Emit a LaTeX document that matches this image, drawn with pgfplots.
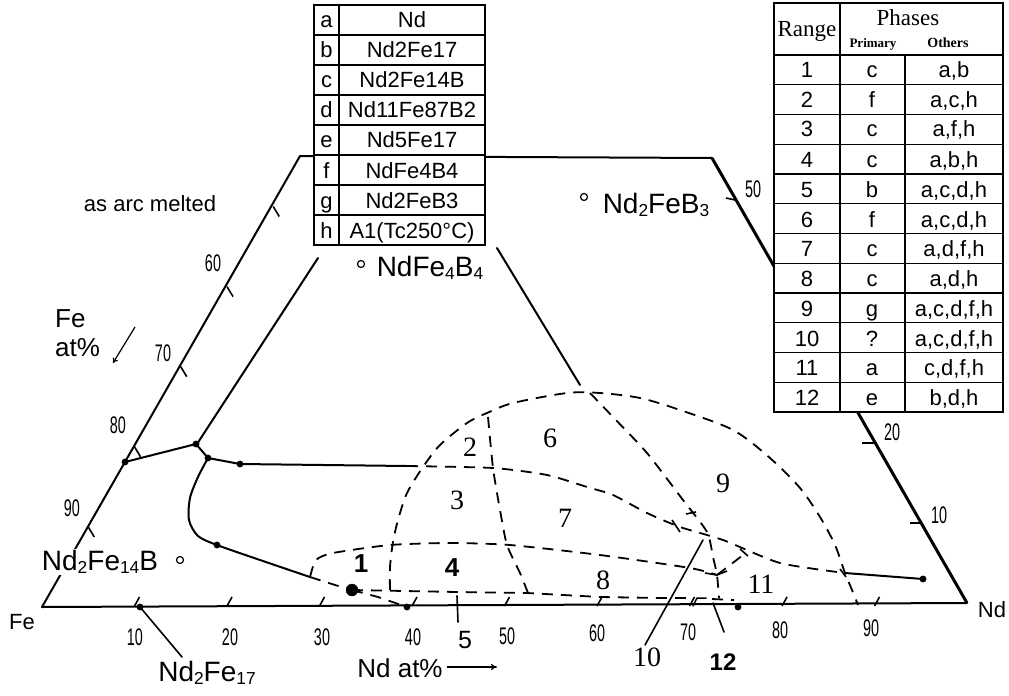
\documentclass[border=0pt]{standalone}
\usepackage{fontspec}
\setmainfont{Liberation Sans}
\newfontfamily\tnr{Liberation Serif}
\usepackage{graphicx}
\usepackage{pgfplots}
\pgfplotsset{compat=1.18}
\usetikzlibrary{arrows.meta}
\newcommand\fs[1]{\fontsize{#1bp}{#1bp}\selectfont}
\newcommand\cn[1]{\scalebox{0.6}[1]{\fs{24}#1}}
\newcommand\sub[1]{\raisebox{-0.12em}{\fontsize{0.62em}{0.62em}\selectfont #1}}
\tikzset{
  sl/.style={black, line width=2bp, line join=round, line cap=round},
  tl/.style={black, line width=3bp, line join=round},
  dl/.style={black, line width=1.8bp, dash pattern=on 11bp off 8bp},
  tk/.style={black, line width=1.6bp},
}
\begin{document}
\begin{tikzpicture}
\begin{axis}[scale only axis, width=1009bp, height=696bp,
  xmin=0, xmax=1009, ymin=0, ymax=696, y dir=reverse,
  hide axis, clip=false]

% ---- triangle edges ----
\addplot[sl] coordinates {(42,607) (967,603)};
\addplot[sl] coordinates {(42,607) (300,156) (712,158)};
\addplot[tl] coordinates {(712,158) (967,603)};

% ---- edge ticks (base, Nd at%) ----
\pgfplotsinvokeforeach{1,...,9}{
  \addplot[tk] coordinates {({42+92.5*#1},606) ({47+92.5*#1},597)};
}
% left edge ticks (Fe at%)
\pgfplotsinvokeforeach{1,...,5}{
  \addplot[tk] coordinates {({42+46.25*#1},{607-80.1*#1}) ({48+46.25*#1},{617-80.1*#1})};
}
% right edge ticks
\addplot[tk] coordinates {(921,523) (910,523)};
\addplot[tk] coordinates {(874,443) (862,443)};
\addplot[tk] coordinates {(735,200) (726,198)};

% ---- solid phase lines ----
\addplot[sl] coordinates {(125,462) (196,444) (208,458) (240,464) (407,466)};
\addplot[sl] coordinates {(197,444) (318,258)};
\addplot[sl] coordinates {(497,248) (580,385)};
\addplot[sl, smooth, tension=0.5] coordinates {(208,458) (198,477) (190,498) (189,520) (198,536) (217,545) (260,560) (310,577)};
\addplot[sl] coordinates {(845,573) (923,579)};

% ---- dashed boundaries ----
\addplot[dl] coordinates {(310,577) (335,585) (352,590)};
\addplot[dl] coordinates {(352,590) (378,597) (407,607)};
\addplot[dl] coordinates {(352,590) (457,592) (527,593) (600,597) (660,598) (690,598)};
\addplot[sl, line width=1.5bp] coordinates {(693,606) (697,598) (706,598)};
\addplot[dl] coordinates {(712,599) (734,600)};
\addplot[dl, smooth, tension=0.4] coordinates {(310,577) (316,560) (333,553) (390,545) (450,543) (510,545) (600,555) (690,568) (717,575)};
\addplot[dl, smooth, tension=0.5] coordinates {(390,590) (390,567) (393,542) (398,520) (407,493) (423,467) (440,445) (467,423) (487,413) (513,403) (567,393) (600,393) (640,398) (680,410) (733,430) (770,458) (800,488) (820,517) (835,545) (845,573) (852,590) (858,605)};
\addplot[dl, smooth, tension=0.4] coordinates {(407,466) (493,468) (547,475) (587,487) (613,495) (647,513) (680,527) (723,540) (780,563) (845,573)};
\addplot[dl, smooth, tension=0.4] coordinates {(488,417) (493,468) (500,510) (507,545) (520,573) (528,593)};
\addplot[dl, smooth, tension=0.4] coordinates {(590,393) (613,417) (647,453) (683,500) (707,532) (713,557) (717,575) (719,598)};
\addplot[dl] coordinates {(717,575) (747,552)};
% small brackets on dashed lines
\addplot[tk] coordinates {(672,520) (680,532)};
\addplot[tk] coordinates {(686,514) (696,512)};
\addplot[tk] coordinates {(705,573) (717,575) (727,571)};
\addplot[tk] coordinates {(740,549) (748,556)};
\addplot[tk] coordinates {(840,569) (846,577)};

% ---- pointer lines ----
\addplot[sl, line width=1.6bp] coordinates {(140,607) (182,657)};
\addplot[sl, line width=1.6bp] coordinates {(457,596) (458,622)};
\addplot[sl, line width=1.6bp] coordinates {(703,540) (645,645)};
\addplot[sl, line width=1.6bp] coordinates {(713,603) (724,632)};

% ---- points ----
\addplot[only marks, mark=*, mark size=3.2bp, black] coordinates {(125,462) (196,444) (208,458) (240,464) (217,545) (140,607) (407,607) (738,607) (923,579)};
\addplot[only marks, mark=*, mark size=6bp, black] coordinates {(352,590)};

% ---- left table ----
\draw[fill=white, line width=1.4bp] (314,5) rectangle (485,245);
\draw[line width=1.2bp] (339,5) -- (339,245);
\pgfplotsinvokeforeach{1,...,7}{\draw[line width=1.2bp] (314,{5+30*#1}) -- (485,{5+30*#1});}
\begin{scope}[every node/.style={font=\fs{22}, inner sep=0pt, anchor=base, yshift=-8bp}]
\node at (326.5,20) {a};  \node at (412,20) {Nd};
\node at (326.5,50) {b};  \node at (412,50) {Nd2Fe17};
\node at (326.5,80) {c};  \node at (412,80) {Nd2Fe14B};
\node at (326.5,110) {d}; \node at (412,110) {Nd11Fe87B2};
\node at (326.5,140) {e}; \node at (412,140) {Nd5Fe17};
\node at (326.5,170) {f}; \node at (412,170) {NdFe4B4};
\node at (326.5,200) {g}; \node at (412,200) {Nd2FeB3};
\node at (326.5,230) {h}; \node at (412,230) {A1(Tc250°C)};
\end{scope}

% ---- right table ----
\draw[fill=white, line width=1.4bp] (774,3) rectangle (1003,412);
\draw[line width=1.2bp] (840,3) -- (840,412);
\draw[line width=1.2bp] (905,55) -- (905,412);
\draw[line width=1.2bp] (774,55) -- (1003,55);
\pgfplotsinvokeforeach{1,...,11}{\draw[line width=1.2bp] (774,{55+29.75*#1}) -- (1003,{55+29.75*#1});}
\node[font=\tnr\fs{23}, inner sep=0pt, anchor=base] at (807,37) {Range};
\node[font=\tnr\fs{23}, inner sep=0pt, anchor=base] at (908,26) {Phases};
\node[font=\tnr\bfseries\fs{13}, inner sep=0pt, anchor=base] at (873,48) {Primary};
\node[font=\tnr\bfseries\fs{14}, inner sep=0pt, anchor=base] at (948,48) {Others};
\begin{scope}[every node/.style={font=\fs{22}, inner sep=0pt, anchor=base, yshift=-8bp}]
\node at (807,70) {1};  \node at (872,70) {c}; \node at (954,70) {a,b};
\node at (807,100) {2}; \node at (872,100) {f}; \node at (954,100) {a,c,h};
\node at (807,129) {3}; \node at (872,129) {c}; \node at (954,129) {a,f,h};
\node at (807,159) {4}; \node at (872,159) {c}; \node at (954,159) {a,b,h};
\node at (807,189) {5}; \node at (872,189) {b}; \node at (954,189) {a,c,d,h};
\node at (807,219) {6}; \node at (872,219) {f}; \node at (954,219) {a,c,d,h};
\node at (807,248) {7}; \node at (872,248) {c}; \node at (954,248) {a,d,f,h};
\node at (807,278) {8}; \node at (872,278) {c}; \node at (954,278) {a,d,h};
\node at (807,308) {9}; \node at (872,308) {g}; \node at (954,308) {a,c,d,f,h};
\node at (807,338) {10}; \node at (872,338) {?}; \node at (954,338) {a,c,d,f,h};
\node at (807,367) {11}; \node at (872,367) {a}; \node at (954,367) {c,d,f,h};
\node at (807,397) {12}; \node at (872,397) {e}; \node at (954,397) {b,d,h};
\end{scope}

% ---- tick numbers ----
\begin{scope}[every node/.style={inner sep=0pt}]
\node at (135,637) {\cn{10}}; \node at (230,637) {\cn{20}}; \node at (322,637) {\cn{30}};
\node at (413,637) {\cn{40}}; \node at (507,636) {\cn{50}}; \node at (597,633) {\cn{60}};
\node at (688,632) {\cn{70}}; \node at (780,630) {\cn{80}}; \node at (871,628) {\cn{90}};
\node at (213,263) {\cn{60}}; \node at (163,353) {\cn{70}}; \node at (118,425) {\cn{80}}; \node at (72,508) {\cn{90}};
\node at (939,515) {\cn{10}}; \node at (892,432) {\cn{20}}; \node at (753,189) {\cn{50}};
\end{scope}

% ---- labels ----
\node[font=\fs{22}] at (150,204) {as arc melted};
\node[font=\fs{26}, inner sep=0pt, anchor=base west] at (55,327) {Fe};
\node[font=\fs{26}, inner sep=0pt, anchor=base west] at (55,356) {at\%};
\draw[-{To[length=5bp,width=6bp]}, line width=1.2bp] (135,327) -- (113,363);
\node[font=\fs{26}, inner sep=0pt] at (400,668) {Nd at\%};
\draw[-{To[length=6bp,width=6bp]}, line width=1.2bp] (447,667) -- (497,667);
\node[font=\fs{22}, inner sep=0pt] at (22,622) {Fe};
\node[font=\fs{22}, inner sep=0pt] at (992,610) {Nd};
\node[font=\fs{28}, fill=white, inner sep=1pt] at (100,562) {Nd\sub{2}Fe\sub{14}B};
\node[font=\fs{28}, inner sep=0pt] at (207,673) {Nd\sub{2}Fe\sub{17}};
\node[font=\fs{28}, inner sep=0pt] at (430,268) {NdFe\sub{4}B\sub{4}};
\node[font=\fs{28}, inner sep=0pt] at (656,205) {Nd\sub{2}FeB\sub{3}};
\addplot[only marks, mark=o, mark size=3.5bp, black, line width=1.2bp] coordinates {(180,560) (361,264) (584,197)};

% ---- range numbers ----
\begin{scope}[every node/.style={font=\tnr\fs{28}, inner sep=0pt}]
\node[font=\fs{26}\bfseries] at (361,564) {1};
\node at (470,447) {2};
\node at (457,500) {3};
\node[font=\fs{26}\bfseries] at (452,568) {4};
\node at (550,438) {6};
\node at (565,518) {7};
\node at (603,580) {8};
\node at (723,483) {9};
\node at (761,584) {11};
\node at (647,657) {10};
\end{scope}
\node[font=\fs{25}, inner sep=0pt] at (465,640) {5};
\node[font=\fs{24}\bfseries, inner sep=0pt] at (723,662) {12};
\end{axis}
\pgfresetboundingbox
\useasboundingbox (0,0) rectangle (1009bp,696bp);
\end{tikzpicture}
\end{document}
